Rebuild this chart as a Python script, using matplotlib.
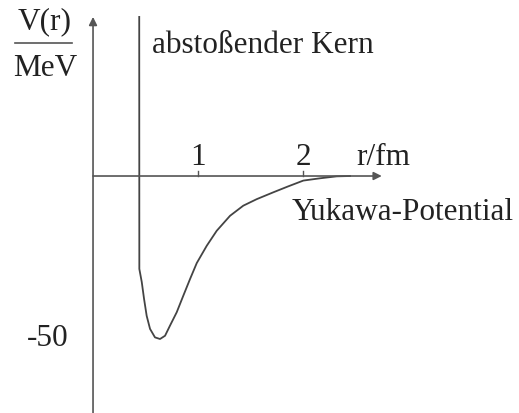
import matplotlib.pyplot as plt

# Yukawa potential with repulsive core
r_fm = [0.44, 0.441, 0.464, 0.486, 0.511, 0.543, 0.590, 0.638, 0.686, 0.733,
        0.797, 0.860, 0.924, 0.988, 1.083, 1.178, 1.305, 1.431, 1.559, 1.717,
        1.857, 2.003, 2.162, 2.321, 2.448]
v_mev = [48.8, -28.5, -32.5, -37.7, -42.9, -46.9, -49.5, -50.0, -49.0, -45.9,
         -41.8, -36.7, -31.6, -26.7, -21.4, -16.8, -12.2, -9.1, -7.1, -5.0,
         -3.2, -1.4, -0.7, -0.1, 0.0]

x_ticks = [1, 2]
x_tick_labels = ['1', '2']
y_ticks = [-50]
y_tick_labels = ['-50']

plt.rcParams['font.family'] = ['Liberation Serif', 'DejaVu Serif']

fig = plt.figure(figsize=(5.19, 4.14), dpi=100)
ax = fig.add_axes([0, 0, 1, 1])
ax.set_xlim(-0.886, 4.057)
ax.set_ylim(-72.7, 54.3)
ax.axis('off')

axis_col = '#555555'
txt_col = '#222222'
fs = 22.5

# axes with arrowheads
ax.annotate('', xy=(2.75, 0), xytext=(0, 0),
            arrowprops=dict(arrowstyle='-|>', color=axis_col, lw=1.2,
                            mutation_scale=12, shrinkA=0, shrinkB=0))
ax.annotate('', xy=(0, 48.8), xytext=(0, -72.7),
            arrowprops=dict(arrowstyle='-|>', color=axis_col, lw=1.2,
                            mutation_scale=12, shrinkA=0, shrinkB=0))

# tick marks on the r axis
for t, lab in zip(x_ticks, x_tick_labels):
    ax.plot([t, t], [0, 1.6], color=axis_col, lw=1.0)
    ax.text(t, 6.1, lab, ha='center', va='center', fontsize=fs, color=txt_col)
for t, lab in zip(y_ticks, y_tick_labels):
    ax.text(-0.43, t + 0.5, lab, ha='center', va='center', fontsize=fs, color=txt_col)

ax.plot(r_fm, v_mev, color='#444444', lw=1.3)

ax.text(2.51, 6.1, 'r/fm', ha='left', va='center', fontsize=fs, color=txt_col)
ax.text(0.562, 40.2, 'abstoßender Kern', ha='left', va='center', fontsize=fs, color=txt_col)
ax.text(1.89, -11.0, 'Yukawa-Potential', ha='left', va='center', fontsize=fs, color=txt_col)

# V(r) / MeV fraction label
ax.text(-0.457, 47.5, 'V(r)', ha='center', va='center', fontsize=fs, color=txt_col)
ax.plot([-0.743, -0.200], [40.8, 40.8], color='#555555', lw=1.2)
ax.text(-0.457, 33.4, 'MeV', ha='center', va='center', fontsize=fs, color=txt_col)

fig.savefig('out.png', dpi=100)
